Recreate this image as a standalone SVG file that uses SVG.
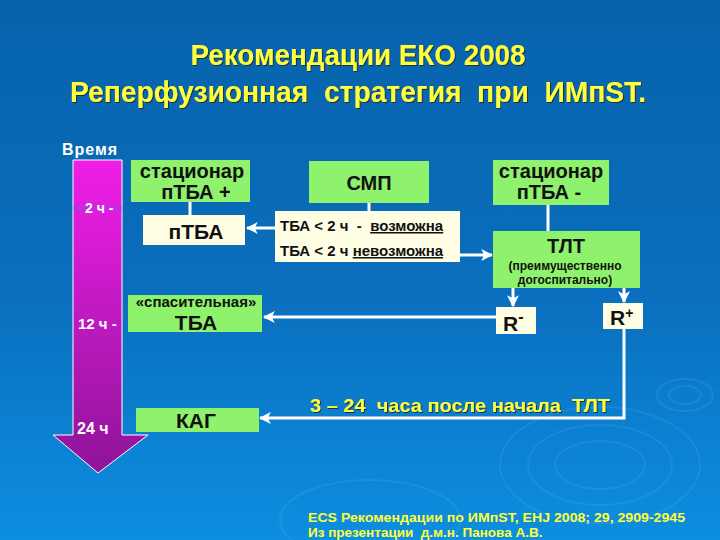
<svg xmlns="http://www.w3.org/2000/svg" width="720" height="540" viewBox="0 0 720 540">
<defs>
<linearGradient id="bg" x1="0" y1="0" x2="0" y2="1">
<stop offset="0" stop-color="#0762ab"/>
<stop offset="0.55" stop-color="#0a6fbe"/>
<stop offset="1" stop-color="#0d8ee0"/>
</linearGradient>
<linearGradient id="arr" x1="0" y1="0" x2="0" y2="1">
<stop offset="0" stop-color="#f01ee8"/>
<stop offset="1" stop-color="#8e1498"/>
</linearGradient>
<marker id="ah" viewBox="0 0 10 10" refX="9" refY="5" markerWidth="4" markerHeight="4" orient="auto" markerUnits="strokeWidth">
<path d="M0,0 L10,5 L0,10 L2.5,5 Z" fill="#ffffff"/>
</marker>
<filter id="sh" x="-5%" y="-20%" width="110%" height="140%">
<feDropShadow dx="1" dy="1" stdDeviation="0.4" flood-color="#202020" flood-opacity="0.8"/>
</filter>
</defs>
<style>
.t{font-family:"Liberation Sans",Arial,sans-serif;font-weight:bold}
.g{fill:#8ff26c}
.c{fill:#fffde4}
.k{fill:#111111}
.w{fill:#ffffff}
.y{fill:#ffff3c}
.ln{stroke:#ffffff;stroke-width:3;fill:none}
.rip{fill:none;stroke:#5fb6f0;stroke-opacity:0.18;stroke-width:2}
</style>
<rect width="720" height="540" fill="url(#bg)"/>
<g id="ripples">
<ellipse class="rip" cx="600" cy="465" rx="100" ry="58"/>
<ellipse class="rip" cx="600" cy="465" rx="72" ry="40"/>
<ellipse class="rip" cx="600" cy="465" rx="45" ry="24"/>
<ellipse class="rip" cx="685" cy="395" rx="28" ry="16"/>
<ellipse class="rip" cx="685" cy="395" rx="16" ry="9"/>
<ellipse class="rip" cx="370" cy="520" rx="90" ry="40"/>
</g>
<g id="title" class="t y" filter="url(#sh)" text-anchor="middle">
<text x="358" y="65" font-size="29" textLength="335" lengthAdjust="spacingAndGlyphs">Рекомендации ЕКО 2008</text>
<text x="358" y="102" font-size="30" textLength="576" lengthAdjust="spacingAndGlyphs" xml:space="preserve">Реперфузионная  стратегия  при  ИМпST.</text>
</g>
<g id="time-arrow">
<path d="M73,160 H122 V435 H148 L98,473 L53,435 H73 Z" fill="url(#arr)" stroke="#ffffff" stroke-width="1"/>
<line x1="73" y1="208" x2="122" y2="208" stroke="#4466ff" stroke-width="1"/>
<text class="t w" x="62" y="155" font-size="16" letter-spacing="1">Время</text>
<text class="t w" x="85" y="213" font-size="14">2 ч -</text>
<text class="t w" x="78" y="329" font-size="15">12 ч -</text>
<text class="t w" x="77" y="434" font-size="16">24 ч</text>
</g>
<g id="connectors">
<line class="ln" x1="190" y1="202" x2="190" y2="215" stroke-width="2"/>
<line class="ln" x1="369" y1="203" x2="369" y2="211" stroke-width="2"/>
<line class="ln" x1="548" y1="205" x2="548" y2="231" stroke-width="2"/>
<line class="ln" x1="275" y1="228" x2="247" y2="228" marker-end="url(#ah)"/>
<line class="ln" x1="460" y1="255" x2="492" y2="255" marker-end="url(#ah)"/>
<line class="ln" x1="513" y1="288" x2="513" y2="306" marker-end="url(#ah)"/>
<line class="ln" x1="624" y1="288" x2="624" y2="302" marker-end="url(#ah)"/>
<line class="ln" x1="496" y1="317" x2="264" y2="317" marker-end="url(#ah)"/>
<polyline class="ln" points="624,329 624,418 260,418" marker-end="url(#ah)"/>
</g>
<g id="stationar-plus">
<rect class="g" x="131" y="160" width="119" height="42"/>
<text class="t k" x="192" y="178" font-size="20" text-anchor="middle">стационар</text>
<text class="t k" x="196" y="199" font-size="20" text-anchor="middle">пТБА +</text>
</g>
<g id="ptba">
<rect class="c" x="143" y="215" width="102" height="30"/>
<text class="t k" x="196" y="239" font-size="21" text-anchor="middle">пТБА</text>
</g>
<g id="smp">
<rect class="g" x="309" y="161" width="120" height="42"/>
<text class="t k" x="369" y="190" font-size="20" text-anchor="middle">СМП</text>
</g>
<g id="tba-cond">
<rect class="c" x="275" y="211" width="185" height="51"/>
<text class="t k" x="280" y="231" font-size="15" xml:space="preserve">ТБА &lt; 2 ч  -  <tspan text-decoration="underline">возможна</tspan></text>
<text class="t k" x="280" y="256" font-size="15">ТБА &lt; 2 ч <tspan text-decoration="underline">невозможна</tspan></text>
</g>
<g id="stationar-minus">
<rect class="g" x="493" y="160" width="116" height="45"/>
<text class="t k" x="551" y="178" font-size="20" text-anchor="middle">стационар</text>
<text class="t k" x="549" y="199" font-size="20" text-anchor="middle">пТБА -</text>
</g>
<g id="tlt">
<rect class="g" x="493" y="231" width="147" height="57"/>
<text class="t k" x="566" y="253" font-size="20" text-anchor="middle">ТЛТ</text>
<text class="t k" x="565" y="270" font-size="12" text-anchor="middle">(преимущественно</text>
<text class="t k" x="565" y="284" font-size="12" text-anchor="middle">догоспитально)</text>
</g>
<g id="r-minus">
<rect class="c" x="496" y="307" width="40" height="27"/>
<text class="t k" x="503" y="331" font-size="21">R<tspan font-size="16" dy="-9">-</tspan></text>
</g>
<g id="r-plus">
<rect class="c" x="603" y="303" width="40" height="26"/>
<text class="t k" x="610" y="325" font-size="21">R<tspan font-size="14" dy="-7">+</tspan></text>
</g>
<g id="rescue-tba">
<rect class="g" x="128" y="295" width="134" height="37"/>
<text class="t k" x="196" y="307" font-size="15" text-anchor="middle">«спасительная»</text>
<text class="t k" x="196" y="330" font-size="21" text-anchor="middle">ТБА</text>
</g>
<g id="kag">
<rect class="g" x="136" y="408" width="123" height="24"/>
<text class="t k" x="196" y="428" font-size="21" text-anchor="middle">КАГ</text>
</g>
<g id="label-3-24">
<text class="t y" x="310" y="412" font-size="19" filter="url(#sh)" xml:space="preserve" textLength="300" lengthAdjust="spacingAndGlyphs">3 – 24  часа после начала  ТЛТ</text>
</g>
<g id="footer" class="t y">
<text x="308" y="522" font-size="13.5" textLength="377" lengthAdjust="spacingAndGlyphs">ECS Рекомендации по ИМпST, EHJ 2008; 29, 2909-2945</text>
<text x="308" y="537" font-size="13.5" xml:space="preserve">Из презентации  д.м.н. Панова А.В.</text>
</g>
</svg>
